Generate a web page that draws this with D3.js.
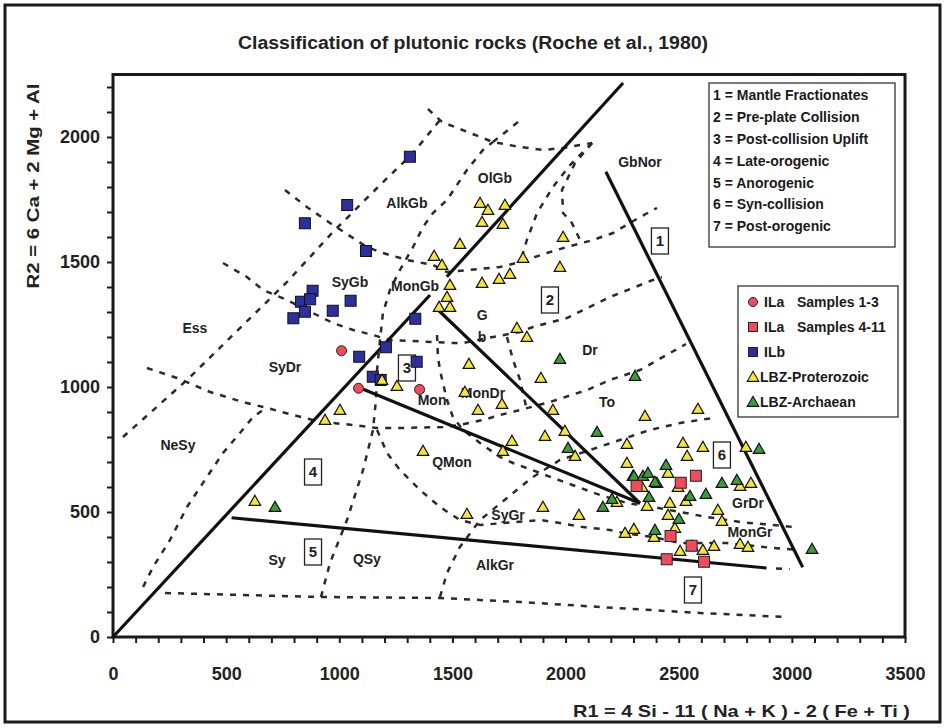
<!DOCTYPE html>
<html>
<head>
<meta charset="utf-8">
<script src="https://cdn.jsdelivr.net/npm/d3@7"></script>
<style>
body { margin: 0; background: #fff; }
text { font-family: "Liberation Sans", Arial, sans-serif; }
</style>
</head>
<body>
<div id="chart"></div>
<script>
// sample points, [R1, R2]
var ilaSamples13 = [[1010, 1145], [1085, 995], [1355, 990]];
var ilaSamples411 = [[2314, 604], [2509, 617], [2576, 645], [2464, 404], [2557, 365], [2447, 311], [2612, 301]];
var ilbSamples = [[1312, 1921], [1035, 1728], [848, 1655], [1118, 1544], [882, 1385], [831, 1341], [871, 1351],
	[848, 1301], [797, 1275], [971, 1305], [1050, 1345], [1336, 1273], [1206, 1159], [1088, 1121],
	[1342, 1101], [1148, 1041], [1183, 1028]];
var lbzProterozoic = [[1622, 1732], [1657, 1704], [1732, 1724], [1631, 1656], [1723, 1648], [1533, 1568],
	[1419, 1520], [1454, 1484], [1489, 1404], [1476, 1356], [1441, 1316], [1489, 1316], [1631, 1412],
	[1706, 1428], [1754, 1448], [1812, 1512], [1989, 1596], [1975, 1476], [1785, 1232], [1829, 1196],
	[1573, 1088], [1891, 1032], [1255, 1000], [1189, 1024], [1555, 976], [1719, 928], [1613, 904],
	[1944, 904], [2351, 880], [1003, 904], [937, 864], [1370, 740], [1723, 740], [1763, 780],
	[1564, 488], [627, 540], [1909, 800], [1997, 820], [2042, 720], [1900, 516], [2059, 484],
	[2263, 412], [2302, 428], [2391, 396], [2506, 340], [2559, 360], [2607, 344], [2656, 360],
	[2771, 368], [2806, 356], [2271, 768], [2585, 908], [2271, 692], [2298, 640], [2338, 596],
	[2360, 520], [2461, 532], [2453, 484], [2483, 432], [2497, 596], [2537, 720], [2519, 772],
	[2607, 756], [2673, 504], [2691, 460], [2771, 600], [2819, 612], [2797, 756], [2453, 652],
	[2227, 536], [2532, 540], [2404, 612]];
var lbzArchaean = [[716, 516], [1975, 1108], [2307, 1040], [2139, 816], [2011, 752], [2165, 516],
	[2205, 548], [2302, 640], [2342, 640], [2364, 652], [2395, 616], [2444, 684], [2369, 556],
	[2550, 560], [2620, 568], [2501, 468], [2395, 424], [2691, 612], [2757, 624], [2855, 748],
	[3089, 348]];

// regime boundaries (solid) and rock field boundaries (dashed)
var regimeLines = [
	[[0, 0], [1401, 1368]],
	[[1475, 1441], [2254, 2216]],
	[[2178, 1861], [3048, 279]],
	[[1437, 1308], [2329, 535]],
	[[1106, 991], [2329, 535]],
	[[524, 477], [2888, 276]]
];
var fieldLines = [
	[[44, 800], [327, 1028], [530, 1208], [769, 1420], [972, 1620], [1167, 1796], [1326, 1936], [1445, 2068]],
	[[1392, 2112], [1454, 2060], [1578, 2016], [1679, 1980], [1799, 1960], [1900, 1948], [1989, 1956], [2117, 1976]],
	[[1679, 1980], [1790, 2060]],
	[[760, 1788], [857, 1720], [959, 1656], [1122, 1560], [1193, 1536], [1299, 1508], [1414, 1488], [1476, 1460],
		[1710, 1480], [1799, 1500], [1918, 1536], [2006, 1560], [2121, 1588], [2210, 1616], [2329, 1680], [2404, 1716]],
	[[486, 1496], [592, 1440], [663, 1388], [769, 1348], [901, 1288], [972, 1256], [1061, 1228], [1149, 1208],
		[1224, 1188], [1502, 1176], [1547, 1176], [1679, 1200], [1799, 1220], [1856, 1240], [2006, 1276],
		[2196, 1360], [2386, 1428], [2426, 1440]],
	[[150, 1076], [283, 1036], [429, 980], [574, 940], [681, 916], [795, 888], [884, 868], [972, 856], [1061, 848],
		[1167, 836], [1268, 836], [1458, 840], [1533, 848], [1635, 868], [1710, 888], [1799, 908], [1931, 940],
		[2095, 988], [2196, 1028], [2329, 1068], [2532, 1172]],
	[[133, 200], [177, 280], [252, 388], [327, 520], [415, 640], [486, 736], [561, 816], [619, 880], [681, 920]],
	[[919, 160], [959, 296], [1034, 468], [1105, 668], [1149, 828], [1162, 948], [1167, 1068], [1180, 1188],
		[1193, 1296], [1224, 1388], [1268, 1468], [1326, 1560], [1370, 1640], [1414, 1696], [1476, 1748],
		[1564, 1868], [1635, 1948], [1679, 1980]],
	[[230, 176], [915, 160], [1445, 156], [1799, 140], [2152, 120], [2594, 96], [2978, 80]],
	[[1445, 160], [1476, 256], [1533, 360], [1622, 468], [1768, 576], [1856, 640], [1975, 708], [2108, 748],
		[2240, 788], [2373, 828], [2506, 856], [2651, 876]],
	[[1167, 828], [1211, 736], [1268, 668], [1357, 588], [1445, 520], [1533, 468], [1622, 448], [1887, 468],
		[1975, 456], [2077, 440], [2196, 428], [2254, 416], [2386, 400], [2506, 376], [2713, 376], [2916, 356],
		[3036, 348]],
	[[1432, 1208], [1436, 1120], [1445, 1068], [1458, 1016], [1476, 948], [1502, 880], [1547, 828], [1622, 776],
		[1710, 720], [1768, 696], [1887, 656], [2006, 616], [2152, 568], [2271, 536], [2386, 520], [2506, 500],
		[2625, 480], [2771, 460], [2916, 448], [3005, 440]],
	[[1741, 1200], [1768, 1108], [1799, 1028], [1812, 976], [1829, 908]],
	[[2117, 1976], [2020, 1888], [1944, 1800], [1874, 1696], [1829, 1588], [1799, 1496]],
	[[2117, 1976], [2042, 1896], [1984, 1788], [1989, 1696], [2028, 1656], [2064, 1588]],
	[[2930, 274], [2990, 272]]
];

var fieldNames = ["AlkGb", "OlGb", "SyGb", "MonGb", "Ess", "G", "b", "Dr", "To", "MonDr", "Mon", "SyDr",
	"NeSy", "QMon", "SyGr", "AlkGr", "Sy", "QSy", "GbNor", "GrDr", "MonGr"];
var fieldPos = [[1299, 1736], [1688, 1836], [1047, 1420], [1335, 1404], [362, 1236], [1631, 1288], [1631, 1200],
	[2108, 1148], [2183, 940], [1635, 976], [1410, 948], [760, 1080], [287, 768], [1498, 700], [1746, 488],
	[1688, 288], [725, 308], [1122, 312], [2329, 1900], [2806, 536], [2815, 420]];

var regimeNumbers = ["1", "2", "3", "4", "5", "6", "7"];
var regimePos = [[2417, 1584], [1931, 1348], [1299, 1076], [884, 660], [884, 340], [2691, 728], [2563, 188]];
var regimeNames = ["1 = Mantle Fractionates", "2 = Pre-plate Collision", "3 = Post-collision Uplift",
	"4 = Late-orogenic", "5 = Anorogenic", "6 = Syn-collision", "7 = Post-orogenic"];

var seriesNames = [["ILa", "Samples 1-3"], ["ILa", "Samples 4-11"], ["ILb", ""], ["LBZ-Proterozoic", ""], ["LBZ-Archaean", ""]];

var width = 946, height = 728;
var colors = { red: "#ef4b5c", blue: "#2d2f9c", yellow: "#f4e43c", green: "#3c9c3a" };

var svg = d3.select("#chart").append("svg")
	.attr("width", width)
	.attr("height", height);

var x = d3.scaleLinear().domain([0, 3500]).range([113, 905]);
var y = d3.scaleLinear().domain([0, 2250]).range([637, 74.5]);

// outer frame
svg.append("rect")
	.attr("x", 5).attr("y", 5).attr("width", 935).attr("height", 717)
	.attr("fill", "none").attr("stroke", "#1a1a1a").attr("stroke-width", 3);

svg.append("text")
	.attr("x", 473).attr("y", 49)
	.attr("text-anchor", "middle")
	.attr("font-size", 18).attr("font-weight", "bold").attr("fill", "#222")
	.attr("textLength", 470).attr("lengthAdjust", "spacingAndGlyphs")
	.text("Classification of plutonic rocks (Roche et al., 1980)");

// axes
var xAxis = d3.axisBottom(x)
	.tickValues(d3.range(0, 3501, 100))
	.tickFormat(function(d) { return d % 500 === 0 ? d : ""; })
	.tickSize(6).tickSizeOuter(0).tickPadding(24);
var yAxis = d3.axisLeft(y)
	.tickValues(d3.range(0, 2201, 100))
	.tickFormat(function(d) { return d % 500 === 0 ? d : ""; })
	.tickSize(6).tickSizeOuter(0).tickPadding(7);

var gx = svg.append("g").attr("transform", "translate(0," + y(0) + ")").call(xAxis);
var gy = svg.append("g").attr("transform", "translate(" + x(0) + ",0)").call(yAxis);
[gx, gy].forEach(function(g) {
	g.select(".domain").remove();
	g.selectAll("line").attr("stroke", "#1a1a1a").attr("stroke-width", 2);
	g.selectAll("text").attr("font-size", 18).attr("font-weight", "bold").attr("fill", "#222")
		.attr("font-family", "'Liberation Sans Narrow', 'Liberation Sans', Arial, sans-serif");
});

svg.append("rect")
	.attr("x", x(0)).attr("y", y(2250))
	.attr("width", x(3500) - x(0)).attr("height", y(0) - y(2250))
	.attr("fill", "none").attr("stroke", "#1a1a1a").attr("stroke-width", 3);

svg.append("text")
	.attr("x", 910).attr("y", 717)
	.attr("text-anchor", "end")
	.attr("font-size", 17).attr("font-weight", "bold").attr("fill", "#222")
	.attr("textLength", 337).attr("lengthAdjust", "spacingAndGlyphs")
	.text("R1 = 4 Si - 11 ( Na + K ) - 2 ( Fe + Ti )");

svg.append("text")
	.attr("transform", "translate(39,186) rotate(-90)")
	.attr("text-anchor", "middle")
	.attr("font-size", 16).attr("font-weight", "bold").attr("fill", "#222")
	.attr("textLength", 205).attr("lengthAdjust", "spacingAndGlyphs")
	.text("R2 = 6 Ca + 2 Mg + Al");

// boundaries
var line = d3.line().x(function(d) { return x(d[0]); }).y(function(d) { return y(d[1]); });

svg.append("g").selectAll("path")
	.data(fieldLines)
	.enter().append("path")
	.attr("d", line)
	.attr("fill", "none").attr("stroke", "#2a2a2a")
	.attr("stroke-width", 2.5).attr("stroke-dasharray", "6,7");

svg.append("g").selectAll("path")
	.data(regimeLines)
	.enter().append("path")
	.attr("d", line)
	.attr("fill", "none").attr("stroke", "#111")
	.attr("stroke-width", 3.2);

// field names
svg.append("g").selectAll("text")
	.data(fieldNames)
	.enter().append("text")
	.attr("x", function(d, i) { return x(fieldPos[i][0]); })
	.attr("y", function(d, i) { return y(fieldPos[i][1]); })
	.attr("dy", "0.35em")
	.attr("text-anchor", "middle")
	.attr("font-size", 14).attr("font-weight", "bold").attr("fill", "#222")
	.text(function(d) { return d; });

// regime number boxes
var boxes = svg.append("g").selectAll("g")
	.data(regimeNumbers)
	.enter().append("g")
	.attr("transform", function(d, i) { return "translate(" + x(regimePos[i][0]) + "," + y(regimePos[i][1]) + ")"; });
boxes.append("rect")
	.attr("x", -8.5).attr("y", -13).attr("width", 17).attr("height", 26)
	.attr("fill", "#fff").attr("stroke", "#222").attr("stroke-width", 1.3);
boxes.append("text")
	.attr("dy", "0.36em").attr("text-anchor", "middle")
	.attr("font-size", 15).attr("font-weight", "bold").attr("fill", "#222")
	.text(function(d) { return d; });

// samples
var triangle = d3.symbol().type(d3.symbolTriangle).size(58);

svg.append("g").selectAll("rect")
	.data(ilbSamples)
	.enter().append("rect")
	.attr("x", function(d) { return x(d[0]) - 5.5; })
	.attr("y", function(d) { return y(d[1]) - 5.5; })
	.attr("width", 11).attr("height", 11)
	.attr("fill", colors.blue).attr("stroke", "#111").attr("stroke-width", 1);

svg.append("g").selectAll("path")
	.data(lbzProterozoic)
	.enter().append("path")
	.attr("d", triangle)
	.attr("transform", function(d) { return "translate(" + x(d[0]) + "," + y(d[1]) + ")"; })
	.attr("fill", colors.yellow).attr("stroke", "#111").attr("stroke-width", 1.2);

svg.append("g").selectAll("path")
	.data(lbzArchaean)
	.enter().append("path")
	.attr("d", triangle)
	.attr("transform", function(d) { return "translate(" + x(d[0]) + "," + y(d[1]) + ")"; })
	.attr("fill", colors.green).attr("stroke", "#111").attr("stroke-width", 1.2);

svg.append("g").selectAll("rect")
	.data(ilaSamples411)
	.enter().append("rect")
	.attr("x", function(d) { return x(d[0]) - 5.5; })
	.attr("y", function(d) { return y(d[1]) - 5.5; })
	.attr("width", 11).attr("height", 11)
	.attr("fill", colors.red).attr("stroke", "#222").attr("stroke-width", 1);

svg.append("g").selectAll("circle")
	.data(ilaSamples13)
	.enter().append("circle")
	.attr("cx", function(d) { return x(d[0]); })
	.attr("cy", function(d) { return y(d[1]); })
	.attr("r", 5)
	.attr("fill", colors.red).attr("stroke", "#222").attr("stroke-width", 1);

// legend: tectonic regimes
var leg1 = svg.append("g").attr("transform", "translate(709,83)");
leg1.append("rect")
	.attr("width", 186).attr("height", 164)
	.attr("fill", "#fff").attr("stroke", "#333").attr("stroke-width", 1.3);
leg1.selectAll("text")
	.data(regimeNames)
	.enter().append("text")
	.attr("x", 4)
	.attr("y", function(d, i) { return 12 + i * 21.9; })
	.attr("dy", "0.35em")
	.attr("font-size", 14).attr("font-weight", "bold").attr("fill", "#1a1a1a")
	.text(function(d) { return d; });

// legend: samples
var leg2 = svg.append("g").attr("transform", "translate(738,286)");
leg2.append("rect")
	.attr("width", 160).attr("height", 131)
	.attr("fill", "#fff").attr("stroke", "#333").attr("stroke-width", 1.3);
var items = leg2.selectAll("g")
	.data(seriesNames)
	.enter().append("g")
	.attr("transform", function(d, i) { return "translate(0," + (16 + i * 25) + ")"; });
items.each(function(d, i) {
	var g = d3.select(this);
	if (i === 0)
		g.append("circle").attr("cx", 15).attr("r", 4.5).attr("fill", colors.red).attr("stroke", "#222");
	else if (i === 1)
		g.append("rect").attr("x", 10.5).attr("y", -4.5).attr("width", 9).attr("height", 9).attr("fill", colors.red).attr("stroke", "#222");
	else if (i === 2)
		g.append("rect").attr("x", 10.5).attr("y", -4.5).attr("width", 9).attr("height", 9).attr("fill", colors.blue).attr("stroke", "#222");
	else
		g.append("path").attr("d", triangle).attr("transform", "translate(15,1)")
			.attr("fill", i === 3 ? colors.yellow : colors.green).attr("stroke", "#111").attr("stroke-width", 1.1);
	var tx = i < 3 ? 26 : 22;
	g.append("text").attr("x", tx).attr("dy", "0.35em")
		.attr("font-size", 14).attr("font-weight", "bold").attr("fill", "#1a1a1a")
		.text(d[0]);
	if (d[1])
		g.append("text").attr("x", 59).attr("dy", "0.35em")
			.attr("font-size", 14).attr("font-weight", "bold").attr("fill", "#1a1a1a")
			.text(d[1]);
});
</script>
</body>
</html>
